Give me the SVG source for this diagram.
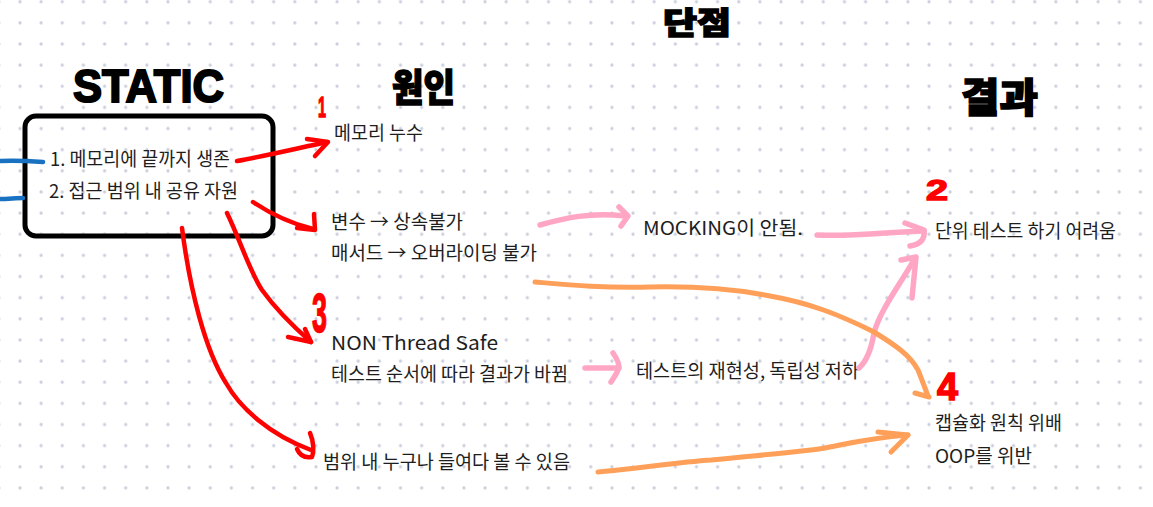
<svg xmlns="http://www.w3.org/2000/svg" width="1153" height="507" viewBox="0 0 1153 507">
<style>
.t{font-family:"Noto Sans CJK KR","Noto Sans",sans-serif;font-size:19px;fill:#1e1e1e}
.h{font-family:"Noto Sans CJK KR","Noto Sans",sans-serif;font-weight:900;fill:#000;stroke:#000}
.num{font-family:"Liberation Sans","Noto Sans",sans-serif;font-weight:bold;fill:#ff0000;stroke:#ff0000;stroke-width:1.5}
.red{fill:none;stroke:#ff0000;stroke-width:4.5;stroke-linecap:round;stroke-linejoin:round}
.pink{fill:none;stroke:#ffa6c4;stroke-width:5.5;stroke-linecap:round;stroke-linejoin:round}
.orange{fill:none;stroke:#ffa05a;stroke-width:5;stroke-linecap:round;stroke-linejoin:round}
.blue{fill:none;stroke:#1971c2;stroke-width:4.5;stroke-linecap:round}
</style>
<defs>
<pattern id="dots" x="9.43" y="-8.87" width="21.14" height="21.14" patternUnits="userSpaceOnUse">
<circle cx="10.57" cy="10.57" r="1.6" fill="#c9cedb"/>
</pattern>
</defs>
<rect width="1153" height="507" fill="#ffffff"/>
<rect width="1153" height="507" fill="url(#dots)"/>

<g id="titles">
<text class="h" x="663" y="34" font-size="31" stroke-width="1.5" textLength="68" lengthAdjust="spacingAndGlyphs">단점</text>
<text x="73" y="102" font-family="Liberation Sans, sans-serif" font-weight="bold" font-size="47" fill="#000" stroke="#000" stroke-width="2" textLength="151" lengthAdjust="spacingAndGlyphs">STATIC</text>
<text class="h" x="392" y="101" font-size="38" stroke-width="1.5" textLength="63" lengthAdjust="spacingAndGlyphs">원인</text>
<text class="h" x="961" y="112" font-size="40" stroke-width="1.5" textLength="77" lengthAdjust="spacingAndGlyphs">결과</text>
</g>

<g id="node-static">
<rect x="25" y="116" width="248" height="120" rx="11" fill="none" stroke="#000" stroke-width="5"/>
<text class="t" x="50" y="166" font-size="20" textLength="180" lengthAdjust="spacingAndGlyphs">1. 메모리에 끝까지 생존</text>
<text class="t" x="49" y="198" font-size="20" textLength="189" lengthAdjust="spacingAndGlyphs">2. 접근 범위 내 공유 자원</text>
</g>

<g id="node-memory-leak">
<text class="t" x="334" y="140" textLength="89" lengthAdjust="spacingAndGlyphs">메모리 누수</text>
</g>

<g id="node-inheritance">
<text class="t" x="331" y="229" textLength="132" lengthAdjust="spacingAndGlyphs">변수 → 상속불가</text>
<text class="t" x="331" y="260" textLength="206" lengthAdjust="spacingAndGlyphs">매서드 → 오버라이딩 불가</text>
</g>

<g id="node-thread">
<text class="t" x="331" y="350" font-size="23" textLength="167" lengthAdjust="spacingAndGlyphs">NON Thread Safe</text>
<text class="t" x="331" y="381" textLength="237" lengthAdjust="spacingAndGlyphs">테스트 순서에 따라 결과가 바뀜</text>
</g>

<g id="node-scope">
<text class="t" x="323" y="469" textLength="247" lengthAdjust="spacingAndGlyphs">범위 내 누구나 들여다 볼 수 있음</text>
</g>

<g id="node-mocking">
<text class="t" x="643" y="235" font-size="20" textLength="160" lengthAdjust="spacingAndGlyphs">MOCKING이 안됨.</text>
</g>

<g id="node-reproducibility">
<text class="t" x="636" y="378" textLength="223" lengthAdjust="spacingAndGlyphs">테스트의 재현성, 독립성 저하</text>
</g>

<g id="node-unit-test">
<text class="t" x="935" y="238" textLength="181" lengthAdjust="spacingAndGlyphs">단위 테스트 하기 어려움</text>
</g>

<g id="node-encapsulation">
<text class="t" x="935" y="430" textLength="127" lengthAdjust="spacingAndGlyphs">캡슐화 원칙 위배</text>
<text class="t" x="935" y="463" font-size="20" textLength="97" lengthAdjust="spacingAndGlyphs">OOP를 위반</text>
</g>

<g id="numbers">
<text class="num" x="318" y="117" font-size="30" textLength="8" lengthAdjust="spacingAndGlyphs">1</text>
<text class="num" x="926" y="200" font-size="30" textLength="22" lengthAdjust="spacingAndGlyphs">2</text>
<text class="num" x="312" y="332" font-size="55" textLength="15" lengthAdjust="spacingAndGlyphs">3</text>
<text class="num" x="937" y="400" font-size="38" textLength="21" lengthAdjust="spacingAndGlyphs">4</text>
</g>

<g id="connectors">
<path class="blue" d="M0,161 C15,160 30,161 43,162"/>
<path class="blue" d="M0,199 C8,199 16,198 23,198"/>

<path class="red" d="M237,161 C260,157 290,150 327,142"/>
<path class="red" d="M307,139 L328,142 L315,156"/>

<path class="red" d="M253,202 C265,210 285,222 313,229"/>
<path class="red" d="M314,214 L315,230 L297,228"/>

<path class="red" d="M227,213 C240,240 250,272 262,290 C275,308 295,328 311,342"/>
<path class="red" d="M305,329 L311,342 L288,337"/>

<path class="red" d="M182,228 C190,290 205,350 226,383 C240,408 270,435 311,450"/>
<path class="red" d="M310,433 C314,442 314,452 312,457 C306,458 300,456 297,449"/>

<path class="pink" d="M540,225 C565,218 590,212 625,216"/>
<path class="pink" d="M619,207 L628,216 L621,226"/>

<path class="pink" d="M817,235 C850,237 890,232 924,231"/>
<path class="pink" d="M905,223 L924,230 C925,238 922,244 910,246"/>

<path class="pink" d="M859,368 C868,360 872,345 874,333 C880,310 900,285 915,258"/>
<path class="pink" d="M901,260 L916,257 L912,298"/>

<path class="pink" d="M585,368 L619,368"/>
<path class="pink" d="M613,353 C618,360 620,366 618,370 C616,375 613,379 611,382"/>

<path class="orange" d="M535,282 C570,285 600,288 650,287 C700,286 740,290 770,296 C810,303 840,315 874,332 C895,345 910,355 918,370 C922,380 925,388 928,396"/>
<path class="orange" d="M915,393 L929,397"/>

<path class="orange" d="M598,472 C640,468 680,462 711,460 C760,455 800,452 825,448 C850,443 870,438 908,435"/>
<path class="orange" d="M878,432 L908,435 L891,452"/>
</g>
</svg>
